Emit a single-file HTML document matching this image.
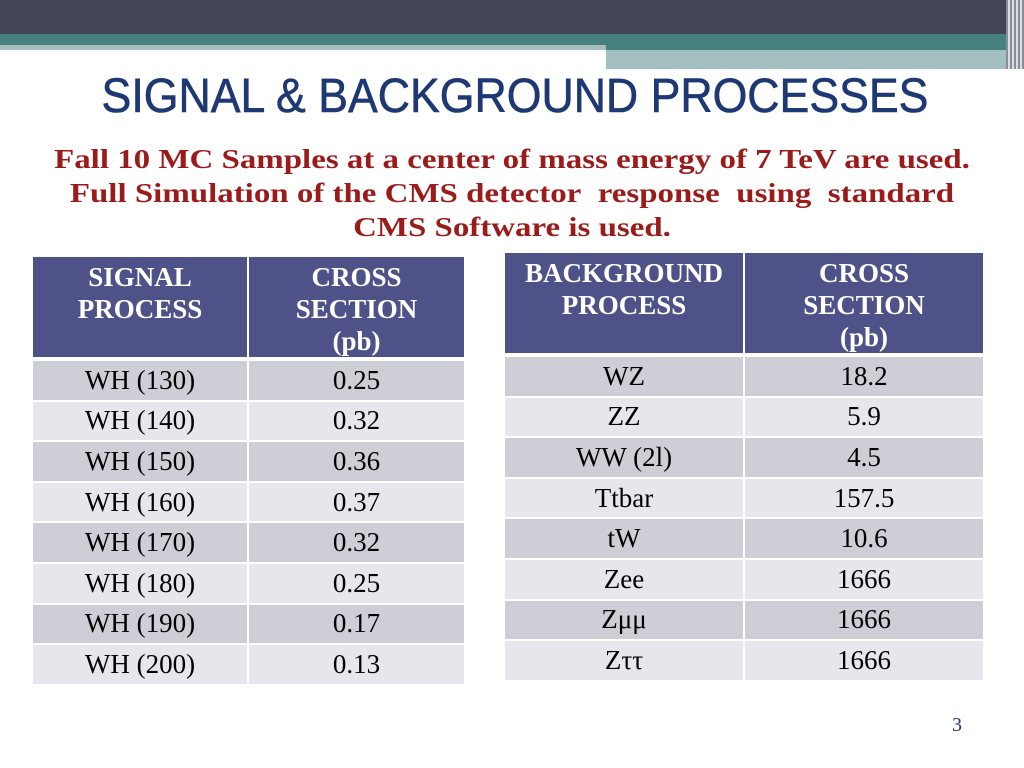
<!DOCTYPE html>
<html><head><meta charset="utf-8"><style>
body{margin:0;width:1024px;height:768px;position:relative;background:#fff;overflow:hidden;font-family:"Liberation Serif",serif}
.a{position:absolute}
.cell{position:absolute;display:flex;align-items:center;justify-content:center;text-align:center;font-size:27px;color:#000}
.hd{background:#4f5189;color:#fff;font-weight:bold;align-items:flex-start;line-height:32px;padding-top:4px;box-sizing:border-box}
</style></head><body>
<div class="a" style="left:0;top:0;width:1024px;height:34px;background:#434456"></div>
<div class="a" style="left:0;top:34px;width:1024px;height:11px;background:#46807f"></div>
<div class="a" style="left:0;top:45px;width:606px;height:5px;background:#a6bec0"></div>
<div class="a" style="left:606px;top:45px;width:418px;height:5px;background:#46807f"></div>
<div class="a" style="left:606px;top:50px;width:400px;height:19px;background:#a3bfc2"></div>
<div class="a" style="left:1006px;top:0;width:18px;height:69px;background:repeating-linear-gradient(90deg,#8a8c99 0 2px,#d8dde0 2px 4px)"></div>
<div class="a" style="left:0;top:69px;width:1030px;text-align:center;font-family:'Liberation Sans',sans-serif;font-size:48px;color:#1e3873;-webkit-text-stroke:0.6px #1e3873;transform:scaleX(0.93);transform-origin:515px 0">SIGNAL &amp; BACKGROUND PROCESSES</div>
<div class="a" style="left:0;top:142px;width:1024px;text-align:center;font-size:27px;font-weight:bold;color:#9b1b1b;line-height:34px;transform:scaleX(1.22);transform-origin:512px 0">Fall 10 MC Samples at a center of mass energy of 7 TeV are used.<br>Full Simulation of the CMS detector&nbsp; response&nbsp; using&nbsp; standard<br>CMS Software is used.</div>
<div id="t"></div>
<div class="a" style="left:952px;top:714px;font-size:20px;color:#1e3873">3</div>
<script>
const sigProc=["WH (130)","WH (140)","WH (150)","WH (160)","WH (170)","WH (180)","WH (190)","WH (200)"];
const sigXs=["0.25","0.32","0.36","0.37","0.32","0.25","0.17","0.13"];
const bgProc=["WZ","ZZ","WW (2l)","Ttbar","tW","Zee","Zμμ","Zττ"];
const bgXs=["18.2","5.9","4.5","157.5","10.6","1666","1666","1666"];
const t=document.getElementById('t');
function mk(x,y,w,h,txt,cls,bg,name){
 const d=document.createElement('div');
 d.className='cell '+cls;
 d.style.cssText=`left:${x}px;top:${y}px;width:${w}px;height:${h}px;`+(bg?`background:${bg};`:'');
 d.innerHTML=txt;
 
 
 t.appendChild(d);
}
function table(x0,split,x1,hy,ry,h1,h2,c1,c2,pfx){
 mk(x0,hy,split-x0-1,100,h1,'hd',null,pfx+'-header-process');
 mk(split+1,hy,x1-split-1,100,h2,'hd',null,pfx+'-header-xsec');
 const rh=40.6;
 for(let i=0;i<c1.length;i++){
  const y=ry+i*rh, bg=i%2?'#e6e7ec':'#cdced6';
  mk(x0,y,split-x0-1,rh-2,c1[i],'',bg,pfx+'-process-'+i);
  mk(split+1,y,x1-split-1,rh-2,c2[i],'',bg,pfx+'-xsec-'+i);
 }
}
table(33,248,464,257,361,"SIGNAL<br>PROCESS","CROSS<br>SECTION<br>(pb)",sigProc,sigXs,'signal');
table(505,744,983,253,357,"BACKGROUND<br>PROCESS","CROSS<br>SECTION<br>(pb)",bgProc,bgXs,'background');
</script>
</body></html>
